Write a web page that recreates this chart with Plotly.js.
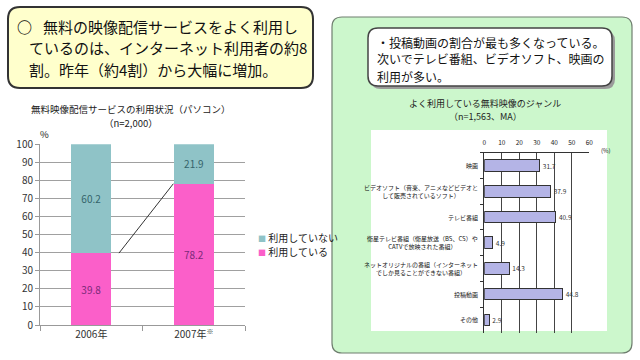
<!DOCTYPE html>
<html><head><meta charset="utf-8">
<script src="https://cdn.plot.ly/plotly-3.0.1.min.js"></script>
<style>html,body{margin:0;padding:0;background:#fff;}#chart{width:640px;height:360px;}</style>
</head><body><div id="chart"></div>
<script>
// ---- data: left chart ----
const years = ['2006年', '2007年<sup>※</sup>'];
const usingVals = [39.8, 78.2];
const notUsingVals = [60.2, 21.9];
const seriesNames = ['利用している', '利用していない'];
const seriesColors = ['#fb5fc9', '#8fc3c7'];
const seriesTextColors = ['#7a2a78', '#35646b'];

// ---- data: right chart ----
const genres = [
  '映画',
  'ビデオソフト（音楽、アニメなどビデオと<br>して販売されているソフト）',
  'テレビ番組',
  '衛星テレビ番組（衛星放送（BS、CS）や<br>CATVで放映された番組）',
  'ネットオリジナルの番組（インターネット<br>でしか見ることができない番組）',
  '投稿動画',
  'その他'
];
const genreVals = [31.7, 37.9, 40.9, 4.9, 14.3, 44.8, 2.9];

// ---- texts ----
const headline = ['無料の映像配信サービスをよく利用し', 'ているのは、インターネット利用者の約8', '割。昨年（約4割）から大幅に増加。'];
const note = ['・投稿動画の割合が最も多くなっている。', '次いでテレビ番組、ビデオソフト、映画の', '利用が多い。'];
const leftTitle = ['無料映像配信サービスの利用状況（パソコン）', '（n=2,000）'];
const rightTitle = ['よく利用している無料映像のジャンル', '（n=1,563、MA）'];

const FONT = '"Noto Sans CJK JP", "Noto Sans", sans-serif';
const W = 640, H = 360;
const px = x => x / W, py = y => 1 - y / H;
function rr(x0, y0, x1, y1, r) {
  const P = (x, y) => px(x) + ',' + py(y);
  return 'M' + P(x0 + r, y0) + ' L' + P(x1 - r, y0) + ' Q' + P(x1, y0) + ' ' + P(x1, y0 + r) +
    ' L' + P(x1, y1 - r) + ' Q' + P(x1, y1) + ' ' + P(x1 - r, y1) +
    ' L' + P(x0 + r, y1) + ' Q' + P(x0, y1) + ' ' + P(x0, y1 - r) +
    ' L' + P(x0, y0 + r) + ' Q' + P(x0, y0) + ' ' + P(x0 + r, y0) + ' Z';
}

const traces = [
  {type: 'bar', x: years, y: usingVals, name: seriesNames[0], xaxis: 'x', yaxis: 'y',
   marker: {color: seriesColors[0]}, width: 0.39,
   text: usingVals.map(v => v.toFixed(1)), textposition: 'inside', insidetextanchor: 'middle',
   textfont: {size: 10, color: seriesTextColors[0], family: FONT}, hoverinfo: 'none'},
  {type: 'bar', x: years, y: notUsingVals, name: seriesNames[1], xaxis: 'x', yaxis: 'y',
   marker: {color: seriesColors[1]}, width: 0.39,
   text: notUsingVals.map(v => v.toFixed(1)), textposition: 'inside', insidetextanchor: 'middle',
   textfont: {size: 10, color: seriesTextColors[1], family: FONT}, hoverinfo: 'none'},
  {type: 'bar', orientation: 'h', x: genreVals, y: genres, xaxis: 'x2', yaxis: 'y2',
   marker: {color: '#b4b4e6', line: {color: '#333', width: 1}}, width: 0.45,
   text: genreVals.map(v => v.toFixed(1)), textposition: 'outside', cliponaxis: false,
   textfont: {size: 6.5, color: '#333', family: FONT}, hoverinfo: 'none'}
];

const shapes = [
  {type: 'path', xref: 'paper', yref: 'paper', path: rr(8, 7, 313, 88, 12), fillcolor: '#ffffcc', line: {color: '#333', width: 2}, layer: 'below'},
  {type: 'path', xref: 'paper', yref: 'paper', path: rr(332, 17, 632, 353, 10), fillcolor: '#ccf7cc', line: {color: '#6f7f6f', width: 1.2}, layer: 'below'},
  {type: 'rect', xref: 'paper', yref: 'paper', x0: px(371), x1: px(607), y0: py(331), y1: py(130), fillcolor: '#fff', line: {width: 0}, layer: 'below'},
  {type: 'path', xref: 'paper', yref: 'paper', path: rr(371, 31, 615, 89, 10), fillcolor: '#9a9a9a', line: {width: 0}, layer: 'below'},
  {type: 'path', xref: 'paper', yref: 'paper', path: rr(368, 28, 612, 86, 10), fillcolor: '#fff', line: {color: '#444', width: 1.5}, layer: 'below'},
  // connector line between the "using" tops
  {type: 'line', xref: 'x', yref: 'y', x0: 0.27, y0: usingVals[0], x1: 0.8, y1: usingVals[1], line: {color: '#333', width: 1}}
];

const ann = [];
function txt(x, y, text, size, opts) {
  ann.push(Object.assign({xref: 'paper', yref: 'paper', x: px(x), y: py(y), text: text, showarrow: false,
    xanchor: 'left', yanchor: 'middle', font: {family: FONT, size: size, color: '#111'}}, opts || {}));
}
txt(15, 27, '○', 15, {font: {family: FONT, size: 15, color: '#111', weight: 'bold'}});
txt(41, 27, headline[0], 15);
txt(27, 48, headline[1], 15);
txt(27, 70, headline[2], 15);
note.forEach((t, i) => txt(375, 42 + i * 17, t, 12));
txt(131, 109, leftTitle[0], 9.5, {xanchor: 'center', font: {family: FONT, size: 9.5, color: '#222'}});
txt(131, 123, leftTitle[1], 9.5, {xanchor: 'center', font: {family: FONT, size: 9.5, color: '#222'}});
txt(38, 134, '%', 9.5, {font: {family: FONT, size: 9.5, color: '#222'}});
txt(485, 103, rightTitle[0], 9, {xanchor: 'center', font: {family: FONT, size: 9, color: '#222'}});
txt(485, 117, rightTitle[1], 9, {xanchor: 'center', font: {family: FONT, size: 9, color: '#222'}});
txt(599, 150, '(%)', 6, {font: {family: FONT, size: 6, color: '#222'}});
// legend (top item = upper series)
[1, 0].forEach((k, i) => txt(256, 237 + i * 15,
  '<span style="color:' + seriesColors[k] + ';font-size:8px">■</span> ' + seriesNames[k], 10,
  {font: {family: FONT, size: 10, color: '#222'}}));
// genre labels
genres.forEach(g => ann.push({xref: 'paper', yref: 'y2', x: px(480), y: g, text: g, showarrow: false,
  xanchor: 'right', yanchor: 'middle', align: 'center', font: {family: FONT, size: 6, color: '#111'}}));

const layout = {
  width: W, height: H, margin: {l: 0, r: 0, t: 0, b: 0},
  paper_bgcolor: '#fff', plot_bgcolor: 'rgba(0,0,0,0)',
  showlegend: false, barmode: 'stack',
  font: {family: FONT, color: '#333'},
  xaxis: {domain: [0.0625, 0.383], anchor: 'y', type: 'category', showline: true, linecolor: '#999',
    ticks: 'outside', tickson: 'boundaries', ticklen: 5, tickcolor: '#999', showgrid: false,
    tickfont: {size: 10, color: '#333', family: FONT}},
  yaxis: {domain: [0.0972, 0.599], anchor: 'x', range: [0, 100], dtick: 10, showline: true, linecolor: '#999',
    ticks: 'outside', ticklen: 4, tickcolor: '#999', gridcolor: '#a0a0a0', zeroline: false,
    tickfont: {size: 10, color: '#333', family: FONT}},
  xaxis2: {domain: [0.7567, 0.9208], anchor: 'y2', range: [0, 60], dtick: 10, side: 'top',
    showgrid: true, gridcolor: '#444', showline: true, linecolor: '#333', zeroline: false, ticks: '',
    ticklabelstandoff: 4, tickfont: {size: 6.5, color: '#222', family: FONT}},
  yaxis2: {domain: [0.0758, 0.5758], anchor: 'x2', type: 'category', autorange: 'reversed',
    showline: true, linecolor: '#333', ticks: 'outside', tickson: 'boundaries', ticklen: 3, tickcolor: '#333',
    showticklabels: false, showgrid: false, zeroline: false},
  shapes: shapes, annotations: ann
};

Plotly.newPlot('chart', traces, layout, {staticPlot: true, displayModeBar: false});
</script></body></html>
